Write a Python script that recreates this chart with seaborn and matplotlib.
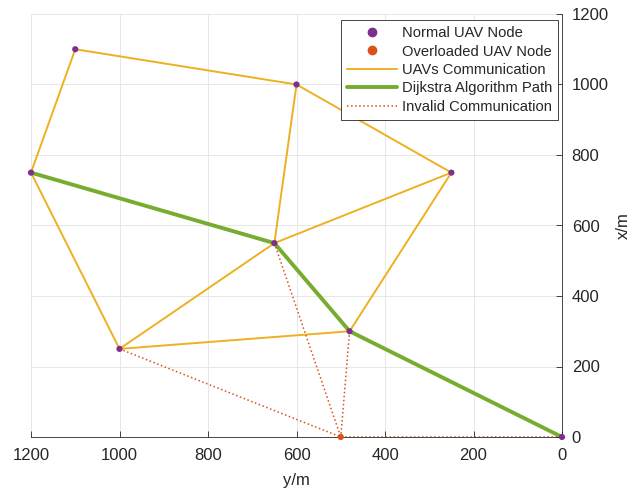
import numpy as np
import pandas as pd
import seaborn as sns
import matplotlib.pyplot as plt
from matplotlib.lines import Line2D

# 노드 좌표 (y/m, x/m)
node_y = [1100, 600, 1200, 250, 650, 480, 1000, 500, 0]
node_x = [1100, 1000, 750, 750, 550, 300, 250, 0, 0]
node_type = ['normal'] * 7 + ['overloaded', 'normal']

# 통신 링크 (노드 인덱스)
comm_edges = [(2, 0), (0, 1), (1, 4), (1, 3), (3, 4), (3, 5), (2, 6), (6, 4), (6, 5), (4, 5), (5, 8)]
dijkstra_path = [2, 4, 5, 8]
invalid_edges = [(4, 7), (5, 7), (6, 7), (7, 8)]

sns.set_style('white')
plt.rcParams['font.family'] = ['Liberation Sans', 'DejaVu Sans']

c_purple = '#7E2F8E'
c_orange = '#D95319'
c_yellow = '#EDB120'
c_green = '#77AC30'
c_axis = '#262626'


def edge_frame(edges):
    rows = []
    for k, (a, b) in enumerate(edges):
        rows.append((k, node_y[a], node_x[a]))
        rows.append((k, node_y[b], node_x[b]))
    return pd.DataFrame(rows, columns=['edge', 'ym', 'xm'])


fig = plt.figure(figsize=(6.32, 4.91), dpi=100)
ax = fig.add_axes([31 / 632, 1 - 437 / 491, 531 / 632, 423 / 491])

sns.lineplot(data=edge_frame(comm_edges), x='ym', y='xm', units='edge', estimator=None,
             sort=False, color=c_yellow, lw=1.4, ax=ax)
path_df = pd.DataFrame({'ym': [node_y[i] for i in dijkstra_path],
                        'xm': [node_x[i] for i in dijkstra_path]})
sns.lineplot(data=path_df, x='ym', y='xm', sort=False, estimator=None, color=c_green, lw=2.8, ax=ax)
sns.lineplot(data=edge_frame(invalid_edges), x='ym', y='xm', units='edge', estimator=None,
             sort=False, color=c_orange, lw=1.1, ls=':', ax=ax)

nodes = pd.DataFrame({'ym': node_y, 'xm': node_x, 'type': node_type})
sns.scatterplot(data=nodes, x='ym', y='xm', hue='type',
                palette={'normal': c_purple, 'overloaded': c_orange},
                s=20, linewidth=0, legend=False, zorder=5, clip_on=False, ax=ax)

ax.set_xlim(1200, 0)
ax.set_ylim(0, 1200)
ax.set_xticks(np.arange(0, 1201, 200))
ax.set_yticks(np.arange(0, 1201, 200))
ax.yaxis.tick_right()
ax.yaxis.set_label_position('right')
ax.set_xlabel('y/m', fontsize=12, color=c_axis, labelpad=7)
ax.set_ylabel('x/m', fontsize=12, color=c_axis, labelpad=5)
ax.tick_params(direction='in', length=4, width=0.6, labelsize=12, colors=c_axis, pad=8,
               right=True, top=False, left=False, bottom=True)
ax.tick_params(axis='y', pad=7)
ax.grid(True, color='#e3e3e3', lw=0.6)
ax.set_axisbelow(True)
for side in ['top', 'left']:
    ax.spines[side].set_visible(False)
for side in ['bottom', 'right']:
    ax.spines[side].set_color(c_axis)
    ax.spines[side].set_linewidth(0.6)

handles = [
    Line2D([], [], ls='none', marker='o', color=c_purple, ms=6),
    Line2D([], [], ls='none', marker='o', color=c_orange, ms=6),
    Line2D([], [], color=c_yellow, lw=1.4),
    Line2D([], [], color=c_green, lw=2.8),
    Line2D([], [], color=c_orange, lw=1.1, ls=':'),
]
labels = ['Normal UAV Node', 'Overloaded UAV Node', 'UAVs Communication',
          'Dijkstra Algorithm Path', 'Invalid Communication']
leg = ax.legend(handles, labels, loc='upper right', bbox_to_anchor=(0.993, 0.986), fontsize=10.6,
                frameon=True, fancybox=False, edgecolor=c_axis, framealpha=1,
                handlelength=3.4, borderpad=0.42, labelspacing=0.3, handletextpad=0.3,
                borderaxespad=0)
leg.get_frame().set_linewidth(0.6)

fig.savefig('out.png', dpi=100)
